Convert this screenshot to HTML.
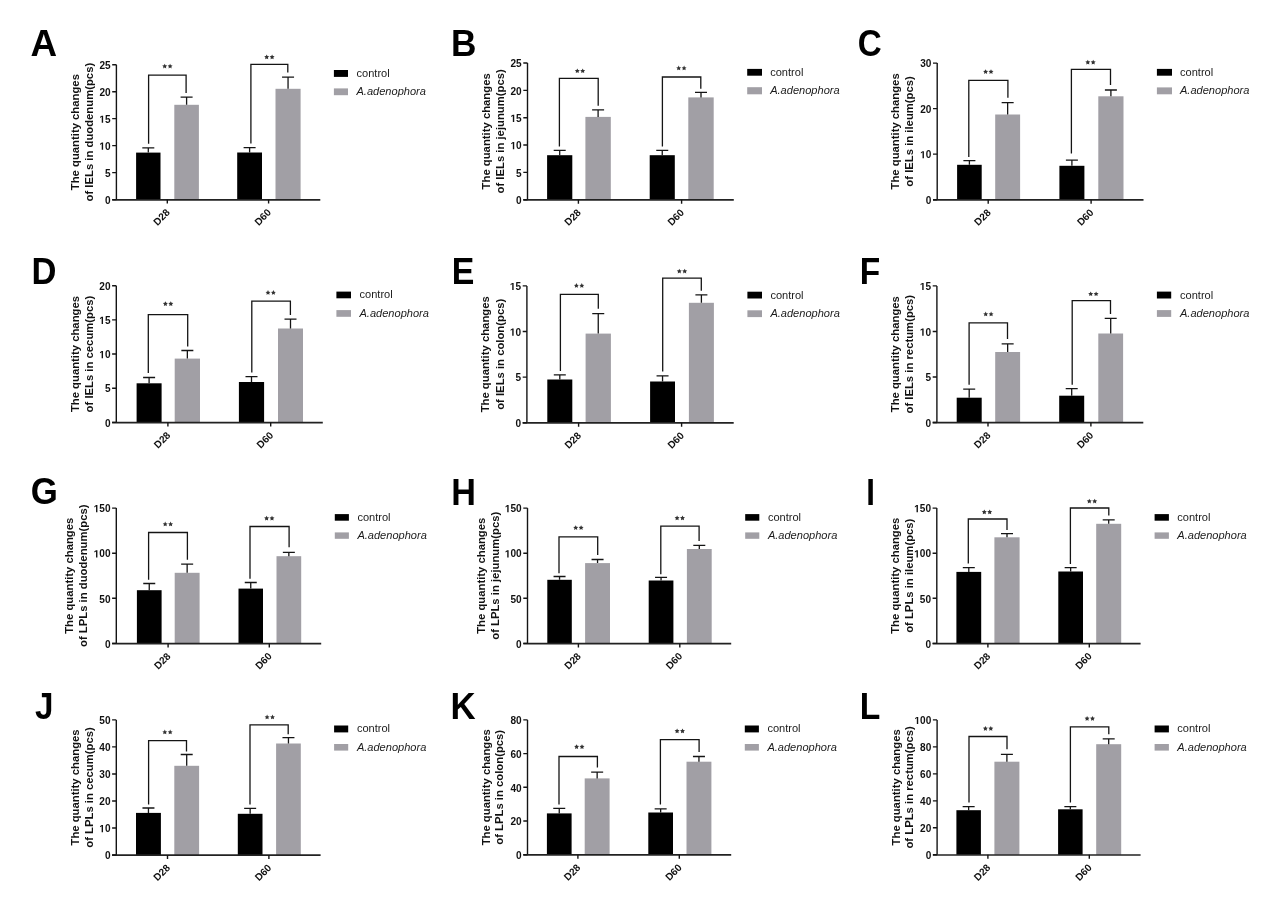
<!DOCTYPE html>
<html><head><meta charset="utf-8"><title>IELs and LPLs quantity changes</title><style>
html,body{margin:0;padding:0;background:#fff;}
svg{display:block;filter:blur(0.4px);}
text{font-family:"Liberation Sans",sans-serif;fill:#111;}
.let{font-weight:bold;fill:#000;}
.tk{font-weight:bold;font-size:10.5px;text-anchor:end;}
.tt{font-weight:bold;font-size:11.3px;text-anchor:middle;}
.lg{font-size:11.05px;fill:#1a1a1a;}
.it{font-style:italic;}
.xl{font-weight:bold;font-size:10.1px;text-anchor:end;}
.star{font-size:11px;text-anchor:middle;fill:#222;}
</style></head>
<body><svg width="1277" height="907" viewBox="0 0 1277 907">
<rect width="1277" height="907" fill="#fff"/>
<g><text class="let" style="font-size:36.34px" transform="translate(30.58 55.7) scale(1.013 1)">A</text><rect x="136.1" y="152.6" width="24.4" height="47" fill="#000"/><rect x="174.3" y="104.8" width="24.6" height="94.8" fill="#a19fa5"/><rect x="237.2" y="152.5" width="24.8" height="47.1" fill="#000"/><rect x="275.5" y="88.8" width="25.1" height="110.8" fill="#a19fa5"/><path d="M148.3 152.6V147.8M142.3 147.8H154.3" stroke="#141414" stroke-width="1.3" fill="none"/><path d="M186.6 104.8V97.2M180.6 97.2H192.6" stroke="#141414" stroke-width="1.3" fill="none"/><path d="M249.6 152.5V147.6M243.6 147.6H255.6" stroke="#141414" stroke-width="1.3" fill="none"/><path d="M288.05 88.8V77.1M282.05 77.1H294.05" stroke="#141414" stroke-width="1.3" fill="none"/><path d="M148.6 143.8V75.1H186.1V93" stroke="#141414" stroke-width="1.3" fill="none"/><path d="M250.9 143.5V64.3H287.8V72.6" stroke="#141414" stroke-width="1.3" fill="none"/><polygon points="164.70,63.70 165.46,65.25 167.17,65.50 165.94,66.70 166.23,68.40 164.70,67.60 163.17,68.40 163.46,66.70 162.23,65.50 163.94,65.25" fill="#333"/><polygon points="170.10,63.70 170.86,65.25 172.57,65.50 171.34,66.70 171.63,68.40 170.10,67.60 168.57,68.40 168.86,66.70 167.63,65.50 169.34,65.25" fill="#333"/><polygon points="266.70,54.50 267.46,56.05 269.17,56.30 267.94,57.50 268.23,59.20 266.70,58.40 265.17,59.20 265.46,57.50 264.23,56.30 265.94,56.05" fill="#333"/><polygon points="272.10,54.50 272.86,56.05 274.57,56.30 273.34,57.50 273.63,59.20 272.10,58.40 270.57,59.20 270.86,57.50 269.63,56.30 271.34,56.05" fill="#333"/><path d="M116.4 64.7V199.6" stroke="#141414" stroke-width="1.4" fill="none"/><path d="M112.2 199.8H320.3" stroke="#222" stroke-width="1.7" fill="none"/><path d="M112.2 199.6H116.4M112.2 172.62H116.4M112.2 145.64H116.4M112.2 118.66H116.4M112.2 91.68H116.4M112.2 64.7H116.4M167.3 199.6V203.6M268.6 199.6V203.6" stroke="#141414" stroke-width="1.4" fill="none"/><text class="tk" transform="translate(110.6 203.8) scale(0.96 1)">0</text><text class="tk" transform="translate(110.6 176.82) scale(0.96 1)">5</text><text class="tk" transform="translate(110.6 149.84) scale(0.96 1)"> 0</text><path transform="translate(110.6 149.84) scale(0.96 1) translate(-11.68 0) scale(0.005127 -0.005127)" d="M478 0V1170L140 959V1180L493 1409H759V0Z" fill="#111"/><text class="tk" transform="translate(110.6 122.86) scale(0.96 1)"> 5</text><path transform="translate(110.6 122.86) scale(0.96 1) translate(-11.68 0) scale(0.005127 -0.005127)" d="M478 0V1170L140 959V1180L493 1409H759V0Z" fill="#111"/><text class="tk" transform="translate(110.6 95.88) scale(0.96 1)">20</text><text class="tk" transform="translate(110.6 68.9) scale(0.96 1)">25</text><text x="170.5" y="213.1" class="xl" transform="rotate(-45 170.5 213.1)">D28</text><text x="271.8" y="213.1" class="xl" transform="rotate(-45 271.8 213.1)">D60</text><text class="tt" transform="translate(79.4 132.15) rotate(-90)">The quantity changes</text><text class="tt" transform="translate(93.1 132.15) rotate(-90)">of IELs in duodenum(pcs)</text><rect x="333.9" y="70" width="14.1" height="6.9" fill="#000"/><rect x="333.9" y="88.4" width="14.1" height="6.8" fill="#a19fa5"/><text x="356.5" y="76.9" class="lg">control</text><text x="356.5" y="95.2" class="lg it">A.adenophora</text></g>
<g><text class="let" style="font-size:36.48px" transform="translate(450.94 55.9) scale(0.966 1)">B</text><rect x="547.1" y="155.2" width="25.2" height="44.5" fill="#000"/><rect x="585.4" y="116.9" width="25.4" height="82.8" fill="#a19fa5"/><rect x="649.7" y="155.2" width="25.1" height="44.5" fill="#000"/><rect x="688.3" y="97.4" width="25.4" height="102.3" fill="#a19fa5"/><path d="M559.7 155.2V150.4M553.7 150.4H565.7" stroke="#141414" stroke-width="1.3" fill="none"/><path d="M598.1 116.9V109.8M592.1 109.8H604.1" stroke="#141414" stroke-width="1.3" fill="none"/><path d="M662.25 155.2V150.4M656.25 150.4H668.25" stroke="#141414" stroke-width="1.3" fill="none"/><path d="M701 97.4V92.4M695 92.4H707" stroke="#141414" stroke-width="1.3" fill="none"/><path d="M559.4 146.5V78.3H598.2V105.7" stroke="#141414" stroke-width="1.3" fill="none"/><path d="M662.4 146.5V77H700.8V88.8" stroke="#141414" stroke-width="1.3" fill="none"/><polygon points="577.30,68.40 578.06,69.95 579.77,70.20 578.54,71.40 578.83,73.10 577.30,72.30 575.77,73.10 576.06,71.40 574.83,70.20 576.54,69.95" fill="#333"/><polygon points="582.70,68.40 583.46,69.95 585.17,70.20 583.94,71.40 584.23,73.10 582.70,72.30 581.17,73.10 581.46,71.40 580.23,70.20 581.94,69.95" fill="#333"/><polygon points="678.70,65.60 679.46,67.15 681.17,67.40 679.94,68.60 680.23,70.30 678.70,69.50 677.17,70.30 677.46,68.60 676.23,67.40 677.94,67.15" fill="#333"/><polygon points="684.10,65.60 684.86,67.15 686.57,67.40 685.34,68.60 685.63,70.30 684.10,69.50 682.57,70.30 682.86,68.60 681.63,67.40 683.34,67.15" fill="#333"/><path d="M527.5 63V199.7" stroke="#141414" stroke-width="1.4" fill="none"/><path d="M523.3 199.9H733.8" stroke="#222" stroke-width="1.7" fill="none"/><path d="M523.3 199.7H527.5M523.3 172.36H527.5M523.3 145.02H527.5M523.3 117.68H527.5M523.3 90.34H527.5M523.3 63H527.5M578.4 199.7V203.7M681.6 199.7V203.7" stroke="#141414" stroke-width="1.4" fill="none"/><text class="tk" transform="translate(521.7 203.9) scale(0.96 1)">0</text><text class="tk" transform="translate(521.7 176.56) scale(0.96 1)">5</text><text class="tk" transform="translate(521.7 149.22) scale(0.96 1)"> 0</text><path transform="translate(521.7 149.22) scale(0.96 1) translate(-11.68 0) scale(0.005127 -0.005127)" d="M478 0V1170L140 959V1180L493 1409H759V0Z" fill="#111"/><text class="tk" transform="translate(521.7 121.88) scale(0.96 1)"> 5</text><path transform="translate(521.7 121.88) scale(0.96 1) translate(-11.68 0) scale(0.005127 -0.005127)" d="M478 0V1170L140 959V1180L493 1409H759V0Z" fill="#111"/><text class="tk" transform="translate(521.7 94.54) scale(0.96 1)">20</text><text class="tk" transform="translate(521.7 67.2) scale(0.96 1)">25</text><text x="581.6" y="213.2" class="xl" transform="rotate(-45 581.6 213.2)">D28</text><text x="684.8" y="213.2" class="xl" transform="rotate(-45 684.8 213.2)">D60</text><text class="tt" transform="translate(490.2 131.35) rotate(-90)">The quantity changes</text><text class="tt" transform="translate(503.7 131.35) rotate(-90)">of IELs in jejunum(pcs)</text><rect x="747.2" y="68.9" width="14.8" height="6.8" fill="#000"/><rect x="747.2" y="87.2" width="14.8" height="7.1" fill="#a19fa5"/><text x="770.2" y="75.7" class="lg">control</text><text x="770.2" y="94.3" class="lg it">A.adenophora</text></g>
<g><text class="let" style="font-size:37.01px" transform="translate(857.74 56.04) scale(0.897 1)">C</text><rect x="957.1" y="164.8" width="24.6" height="34.9" fill="#000"/><rect x="995.2" y="114.5" width="24.9" height="85.2" fill="#a19fa5"/><rect x="1059.4" y="165.8" width="25" height="33.9" fill="#000"/><rect x="1098.3" y="96.3" width="25.2" height="103.4" fill="#a19fa5"/><path d="M969.4 164.8V160.6M963.4 160.6H975.4" stroke="#141414" stroke-width="1.3" fill="none"/><path d="M1007.65 114.5V102.6M1001.65 102.6H1013.65" stroke="#141414" stroke-width="1.3" fill="none"/><path d="M1071.9 165.8V160.1M1065.9 160.1H1077.9" stroke="#141414" stroke-width="1.3" fill="none"/><path d="M1110.9 96.3V90M1104.9 90H1116.9" stroke="#141414" stroke-width="1.3" fill="none"/><path d="M968.8 157V80.3H1007.9V97.7" stroke="#141414" stroke-width="1.3" fill="none"/><path d="M1071.4 153.4V69.3H1110.5V85.1" stroke="#141414" stroke-width="1.3" fill="none"/><polygon points="985.60,69.20 986.36,70.75 988.07,71.00 986.84,72.20 987.13,73.90 985.60,73.10 984.07,73.90 984.36,72.20 983.13,71.00 984.84,70.75" fill="#333"/><polygon points="991.00,69.20 991.76,70.75 993.47,71.00 992.24,72.20 992.53,73.90 991.00,73.10 989.47,73.90 989.76,72.20 988.53,71.00 990.24,70.75" fill="#333"/><polygon points="1087.80,59.80 1088.56,61.35 1090.27,61.60 1089.04,62.80 1089.33,64.50 1087.80,63.70 1086.27,64.50 1086.56,62.80 1085.33,61.60 1087.04,61.35" fill="#333"/><polygon points="1093.20,59.80 1093.96,61.35 1095.67,61.60 1094.44,62.80 1094.73,64.50 1093.20,63.70 1091.67,64.50 1091.96,62.80 1090.73,61.60 1092.44,61.35" fill="#333"/><path d="M937.2 63.1V199.7" stroke="#141414" stroke-width="1.4" fill="none"/><path d="M933 199.9H1143.5" stroke="#222" stroke-width="1.7" fill="none"/><path d="M933 199.7H937.2M933 154.17H937.2M933 108.63H937.2M933 63.1H937.2M988.2 199.7V203.7M1091.1 199.7V203.7" stroke="#141414" stroke-width="1.4" fill="none"/><text class="tk" transform="translate(931.4 203.9) scale(0.96 1)">0</text><text class="tk" transform="translate(931.4 158.37) scale(0.96 1)"> 0</text><path transform="translate(931.4 158.37) scale(0.96 1) translate(-11.68 0) scale(0.005127 -0.005127)" d="M478 0V1170L140 959V1180L493 1409H759V0Z" fill="#111"/><text class="tk" transform="translate(931.4 112.83) scale(0.96 1)">20</text><text class="tk" transform="translate(931.4 67.3) scale(0.96 1)">30</text><text x="991.4" y="213.2" class="xl" transform="rotate(-45 991.4 213.2)">D28</text><text x="1094.3" y="213.2" class="xl" transform="rotate(-45 1094.3 213.2)">D60</text><text class="tt" transform="translate(898.7 131.4) rotate(-90)">The quantity changes</text><text class="tt" transform="translate(913 131.4) rotate(-90)">of IELs in ileum(pcs)</text><rect x="1156.9" y="68.9" width="15.1" height="6.8" fill="#000"/><rect x="1156.9" y="87.4" width="15.1" height="6.9" fill="#a19fa5"/><text x="1180" y="75.7" class="lg">control</text><text x="1180" y="94.3" class="lg it">A.adenophora</text></g>
<g><text class="let" style="font-size:36.34px" transform="translate(31.39 283.7) scale(0.951 1)">D</text><rect x="136.6" y="383.3" width="25" height="39.1" fill="#000"/><rect x="174.7" y="358.6" width="25.3" height="63.8" fill="#a19fa5"/><rect x="238.9" y="382" width="25.2" height="40.4" fill="#000"/><rect x="278" y="328.5" width="25" height="93.9" fill="#a19fa5"/><path d="M149.1 383.3V377.5M143.1 377.5H155.1" stroke="#141414" stroke-width="1.3" fill="none"/><path d="M187.35 358.6V350.5M181.35 350.5H193.35" stroke="#141414" stroke-width="1.3" fill="none"/><path d="M251.5 382V376.6M245.5 376.6H257.5" stroke="#141414" stroke-width="1.3" fill="none"/><path d="M290.5 328.5V319.2M284.5 319.2H296.5" stroke="#141414" stroke-width="1.3" fill="none"/><path d="M148.3 373V314.7H187.7V346.5" stroke="#141414" stroke-width="1.3" fill="none"/><path d="M251.8 372.5V301.2H290.4V315" stroke="#141414" stroke-width="1.3" fill="none"/><polygon points="165.40,301.30 166.16,302.85 167.87,303.10 166.64,304.30 166.93,306.00 165.40,305.20 163.87,306.00 164.16,304.30 162.93,303.10 164.64,302.85" fill="#333"/><polygon points="170.80,301.30 171.56,302.85 173.27,303.10 172.04,304.30 172.33,306.00 170.80,305.20 169.27,306.00 169.56,304.30 168.33,303.10 170.04,302.85" fill="#333"/><polygon points="268.00,290.10 268.76,291.65 270.47,291.90 269.24,293.10 269.53,294.80 268.00,294.00 266.47,294.80 266.76,293.10 265.53,291.90 267.24,291.65" fill="#333"/><polygon points="273.40,290.10 274.16,291.65 275.87,291.90 274.64,293.10 274.93,294.80 273.40,294.00 271.87,294.80 272.16,293.10 270.93,291.90 272.64,291.65" fill="#333"/><path d="M116.3 285.7V422.4" stroke="#141414" stroke-width="1.4" fill="none"/><path d="M112.1 422.6H322.8" stroke="#222" stroke-width="1.7" fill="none"/><path d="M112.1 422.4H116.3M112.1 388.22H116.3M112.1 354.05H116.3M112.1 319.88H116.3M112.1 285.7H116.3M167.9 422.4V426.4M270.7 422.4V426.4" stroke="#141414" stroke-width="1.4" fill="none"/><text class="tk" transform="translate(110.5 426.6) scale(0.96 1)">0</text><text class="tk" transform="translate(110.5 392.42) scale(0.96 1)">5</text><text class="tk" transform="translate(110.5 358.25) scale(0.96 1)"> 0</text><path transform="translate(110.5 358.25) scale(0.96 1) translate(-11.68 0) scale(0.005127 -0.005127)" d="M478 0V1170L140 959V1180L493 1409H759V0Z" fill="#111"/><text class="tk" transform="translate(110.5 324.07) scale(0.96 1)"> 5</text><path transform="translate(110.5 324.07) scale(0.96 1) translate(-11.68 0) scale(0.005127 -0.005127)" d="M478 0V1170L140 959V1180L493 1409H759V0Z" fill="#111"/><text class="tk" transform="translate(110.5 289.9) scale(0.96 1)">20</text><text x="171.1" y="435.9" class="xl" transform="rotate(-45 171.1 435.9)">D28</text><text x="273.9" y="435.9" class="xl" transform="rotate(-45 273.9 435.9)">D60</text><text class="tt" transform="translate(78.7 354.05) rotate(-90)">The quantity changes</text><text class="tt" transform="translate(93 354.05) rotate(-90)">of IELs in cecum(pcs)</text><rect x="336.4" y="291.6" width="14.6" height="6.7" fill="#000"/><rect x="336.4" y="310.1" width="14.6" height="6.7" fill="#a19fa5"/><text x="359.5" y="298.3" class="lg">control</text><text x="359.5" y="316.8" class="lg it">A.adenophora</text></g>
<g><text class="let" style="font-size:36.19px" transform="translate(451.63 283.7) scale(0.936 1)">E</text><rect x="547.3" y="379.5" width="25" height="43.2" fill="#000"/><rect x="585.6" y="333.6" width="25.3" height="89.1" fill="#a19fa5"/><rect x="650.1" y="381.5" width="24.9" height="41.2" fill="#000"/><rect x="688.9" y="302.8" width="25" height="119.9" fill="#a19fa5"/><path d="M559.8 379.5V374.8M553.8 374.8H565.8" stroke="#141414" stroke-width="1.3" fill="none"/><path d="M598.25 333.6V313.6M592.25 313.6H604.25" stroke="#141414" stroke-width="1.3" fill="none"/><path d="M662.55 381.5V375.9M656.55 375.9H668.55" stroke="#141414" stroke-width="1.3" fill="none"/><path d="M701.4 302.8V294.9M695.4 294.9H707.4" stroke="#141414" stroke-width="1.3" fill="none"/><path d="M560.4 370.9V294.3H598.3V308.7" stroke="#141414" stroke-width="1.3" fill="none"/><path d="M662.7 371.6V278.1H701.3V290.7" stroke="#141414" stroke-width="1.3" fill="none"/><polygon points="576.40,283.10 577.16,284.65 578.87,284.90 577.64,286.10 577.93,287.80 576.40,287.00 574.87,287.80 575.16,286.10 573.93,284.90 575.64,284.65" fill="#333"/><polygon points="581.80,283.10 582.56,284.65 584.27,284.90 583.04,286.10 583.33,287.80 581.80,287.00 580.27,287.80 580.56,286.10 579.33,284.90 581.04,284.65" fill="#333"/><polygon points="679.30,268.70 680.06,270.25 681.77,270.50 680.54,271.70 680.83,273.40 679.30,272.60 677.77,273.40 678.06,271.70 676.83,270.50 678.54,270.25" fill="#333"/><polygon points="684.70,268.70 685.46,270.25 687.17,270.50 685.94,271.70 686.23,273.40 684.70,272.60 683.17,273.40 683.46,271.70 682.23,270.50 683.94,270.25" fill="#333"/><path d="M526.9 285.9V422.7" stroke="#141414" stroke-width="1.4" fill="none"/><path d="M522.7 422.9H733.7" stroke="#222" stroke-width="1.7" fill="none"/><path d="M522.7 422.7H526.9M522.7 377.1H526.9M522.7 331.5H526.9M522.7 285.9H526.9M578.6 422.7V426.7M681.6 422.7V426.7" stroke="#141414" stroke-width="1.4" fill="none"/><text class="tk" transform="translate(521.1 426.9) scale(0.96 1)">0</text><text class="tk" transform="translate(521.1 381.3) scale(0.96 1)">5</text><text class="tk" transform="translate(521.1 335.7) scale(0.96 1)"> 0</text><path transform="translate(521.1 335.7) scale(0.96 1) translate(-11.68 0) scale(0.005127 -0.005127)" d="M478 0V1170L140 959V1180L493 1409H759V0Z" fill="#111"/><text class="tk" transform="translate(521.1 290.1) scale(0.96 1)"> 5</text><path transform="translate(521.1 290.1) scale(0.96 1) translate(-11.68 0) scale(0.005127 -0.005127)" d="M478 0V1170L140 959V1180L493 1409H759V0Z" fill="#111"/><text x="581.8" y="436.2" class="xl" transform="rotate(-45 581.8 436.2)">D28</text><text x="684.8" y="436.2" class="xl" transform="rotate(-45 684.8 436.2)">D60</text><text class="tt" transform="translate(489.4 354.3) rotate(-90)">The quantity changes</text><text class="tt" transform="translate(503.9 354.3) rotate(-90)">of IELs in colon(pcs)</text><rect x="747.4" y="291.7" width="14.6" height="6.8" fill="#000"/><rect x="747.4" y="310.3" width="14.6" height="6.8" fill="#a19fa5"/><text x="770.4" y="298.5" class="lg">control</text><text x="770.4" y="317.1" class="lg it">A.adenophora</text></g>
<g><text class="let" style="font-size:36.19px" transform="translate(859.66 283.7) scale(0.926 1)">F</text><rect x="956.7" y="397.7" width="25" height="24.8" fill="#000"/><rect x="995.2" y="352" width="24.9" height="70.5" fill="#a19fa5"/><rect x="1059.2" y="395.7" width="25" height="26.8" fill="#000"/><rect x="1098.3" y="333.5" width="24.8" height="89" fill="#a19fa5"/><path d="M969.2 397.7V389.2M963.2 389.2H975.2" stroke="#141414" stroke-width="1.3" fill="none"/><path d="M1007.65 352V343.9M1001.65 343.9H1013.65" stroke="#141414" stroke-width="1.3" fill="none"/><path d="M1071.7 395.7V388.7M1065.7 388.7H1077.7" stroke="#141414" stroke-width="1.3" fill="none"/><path d="M1110.7 333.5V318.4M1104.7 318.4H1116.7" stroke="#141414" stroke-width="1.3" fill="none"/><path d="M969.1 384.7V322.9H1007.5V339.1" stroke="#141414" stroke-width="1.3" fill="none"/><path d="M1072.2 384.7V300.7H1110.5V313.9" stroke="#141414" stroke-width="1.3" fill="none"/><polygon points="985.70,311.60 986.46,313.15 988.17,313.40 986.94,314.60 987.23,316.30 985.70,315.50 984.17,316.30 984.46,314.60 983.23,313.40 984.94,313.15" fill="#333"/><polygon points="991.10,311.60 991.86,313.15 993.57,313.40 992.34,314.60 992.63,316.30 991.10,315.50 989.57,316.30 989.86,314.60 988.63,313.40 990.34,313.15" fill="#333"/><polygon points="1090.70,291.40 1091.46,292.95 1093.17,293.20 1091.94,294.40 1092.23,296.10 1090.70,295.30 1089.17,296.10 1089.46,294.40 1088.23,293.20 1089.94,292.95" fill="#333"/><polygon points="1096.10,291.40 1096.86,292.95 1098.57,293.20 1097.34,294.40 1097.63,296.10 1096.10,295.30 1094.57,296.10 1094.86,294.40 1093.63,293.20 1095.34,292.95" fill="#333"/><path d="M936.9 285.9V422.5" stroke="#141414" stroke-width="1.4" fill="none"/><path d="M932.7 422.7H1143.3" stroke="#222" stroke-width="1.7" fill="none"/><path d="M932.7 422.5H936.9M932.7 376.97H936.9M932.7 331.43H936.9M932.7 285.9H936.9M988 422.5V426.5M1090.9 422.5V426.5" stroke="#141414" stroke-width="1.4" fill="none"/><text class="tk" transform="translate(931.1 426.7) scale(0.96 1)">0</text><text class="tk" transform="translate(931.1 381.17) scale(0.96 1)">5</text><text class="tk" transform="translate(931.1 335.63) scale(0.96 1)"> 0</text><path transform="translate(931.1 335.63) scale(0.96 1) translate(-11.68 0) scale(0.005127 -0.005127)" d="M478 0V1170L140 959V1180L493 1409H759V0Z" fill="#111"/><text class="tk" transform="translate(931.1 290.1) scale(0.96 1)"> 5</text><path transform="translate(931.1 290.1) scale(0.96 1) translate(-11.68 0) scale(0.005127 -0.005127)" d="M478 0V1170L140 959V1180L493 1409H759V0Z" fill="#111"/><text x="991.2" y="436" class="xl" transform="rotate(-45 991.2 436)">D28</text><text x="1094.1" y="436" class="xl" transform="rotate(-45 1094.1 436)">D60</text><text class="tt" transform="translate(898.8 354.2) rotate(-90)">The quantity changes</text><text class="tt" transform="translate(913.1 354.2) rotate(-90)">of IELs in rectum(pcs)</text><rect x="1156.9" y="291.6" width="14.3" height="6.9" fill="#000"/><rect x="1156.9" y="310.1" width="14.3" height="6.8" fill="#a19fa5"/><text x="1180" y="298.5" class="lg">control</text><text x="1180" y="316.9" class="lg it">A.adenophora</text></g>
<g><text class="let" style="font-size:36.86px" transform="translate(30.67 504.44) scale(0.945 1)">G</text><rect x="136.9" y="590.2" width="24.7" height="53.2" fill="#000"/><rect x="174.7" y="572.8" width="24.9" height="70.6" fill="#a19fa5"/><rect x="238.5" y="588.6" width="24.5" height="54.8" fill="#000"/><rect x="276.5" y="556.2" width="24.7" height="87.2" fill="#a19fa5"/><path d="M149.25 590.2V583.5M143.25 583.5H155.25" stroke="#141414" stroke-width="1.3" fill="none"/><path d="M187.15 572.8V564.2M181.15 564.2H193.15" stroke="#141414" stroke-width="1.3" fill="none"/><path d="M250.75 588.6V582.5M244.75 582.5H256.75" stroke="#141414" stroke-width="1.3" fill="none"/><path d="M288.85 556.2V552.3M282.85 552.3H294.85" stroke="#141414" stroke-width="1.3" fill="none"/><path d="M148.6 579.7V532.5H187.4V559.8" stroke="#141414" stroke-width="1.3" fill="none"/><path d="M250 578.8V526.5H289.1V547.2" stroke="#141414" stroke-width="1.3" fill="none"/><polygon points="165.20,521.60 165.96,523.15 167.67,523.40 166.44,524.60 166.73,526.30 165.20,525.50 163.67,526.30 163.96,524.60 162.73,523.40 164.44,523.15" fill="#333"/><polygon points="170.60,521.60 171.36,523.15 173.07,523.40 171.84,524.60 172.13,526.30 170.60,525.50 169.07,526.30 169.36,524.60 168.13,523.40 169.84,523.15" fill="#333"/><polygon points="266.60,515.80 267.36,517.35 269.07,517.60 267.84,518.80 268.13,520.50 266.60,519.70 265.07,520.50 265.36,518.80 264.13,517.60 265.84,517.35" fill="#333"/><polygon points="272.00,515.80 272.76,517.35 274.47,517.60 273.24,518.80 273.53,520.50 272.00,519.70 270.47,520.50 270.76,518.80 269.53,517.60 271.24,517.35" fill="#333"/><path d="M116.3 508.1V643.4" stroke="#141414" stroke-width="1.4" fill="none"/><path d="M112.1 643.6H321.2" stroke="#222" stroke-width="1.7" fill="none"/><path d="M112.1 643.4H116.3M112.1 598.3H116.3M112.1 553.2H116.3M112.1 508.1H116.3M168.1 643.4V647.4M269.3 643.4V647.4" stroke="#141414" stroke-width="1.4" fill="none"/><text class="tk" transform="translate(110.5 647.6) scale(0.96 1)">0</text><text class="tk" transform="translate(110.5 602.5) scale(0.96 1)">50</text><text class="tk" transform="translate(110.5 557.4) scale(0.96 1)"> 00</text><path transform="translate(110.5 557.4) scale(0.96 1) translate(-17.52 0) scale(0.005127 -0.005127)" d="M478 0V1170L140 959V1180L493 1409H759V0Z" fill="#111"/><text class="tk" transform="translate(110.5 512.3) scale(0.96 1)"> 50</text><path transform="translate(110.5 512.3) scale(0.96 1) translate(-17.52 0) scale(0.005127 -0.005127)" d="M478 0V1170L140 959V1180L493 1409H759V0Z" fill="#111"/><text x="171.3" y="656.9" class="xl" transform="rotate(-45 171.3 656.9)">D28</text><text x="272.5" y="656.9" class="xl" transform="rotate(-45 272.5 656.9)">D60</text><text class="tt" transform="translate(72.9 575.75) rotate(-90)">The quantity changes</text><text class="tt" transform="translate(86.6 575.75) rotate(-90)">of LPLs in duodenum(pcs)</text><rect x="334.8" y="514.1" width="14.1" height="6.6" fill="#000"/><rect x="334.8" y="532.4" width="14.1" height="6.4" fill="#a19fa5"/><text x="357.4" y="520.7" class="lg">control</text><text x="357.4" y="538.8" class="lg it">A.adenophora</text></g>
<g><text class="let" style="font-size:36.92px" transform="translate(451.21 504.5) scale(0.926 1)">H</text><rect x="547.3" y="579.8" width="24.5" height="63.6" fill="#000"/><rect x="585.1" y="563.1" width="24.9" height="80.3" fill="#a19fa5"/><rect x="648.7" y="580.5" width="24.7" height="62.9" fill="#000"/><rect x="686.9" y="549" width="24.8" height="94.4" fill="#a19fa5"/><path d="M559.55 579.8V576.5M553.55 576.5H565.55" stroke="#141414" stroke-width="1.3" fill="none"/><path d="M597.55 563.1V559.5M591.55 559.5H603.55" stroke="#141414" stroke-width="1.3" fill="none"/><path d="M661.05 580.5V577.4M655.05 577.4H667.05" stroke="#141414" stroke-width="1.3" fill="none"/><path d="M699.3 549V545.4M693.3 545.4H705.3" stroke="#141414" stroke-width="1.3" fill="none"/><path d="M559 573.3V536.8H597.7V555" stroke="#141414" stroke-width="1.3" fill="none"/><path d="M660.8 574.3V526.2H699.1V540.9" stroke="#141414" stroke-width="1.3" fill="none"/><polygon points="575.70,525.20 576.46,526.75 578.17,527.00 576.94,528.20 577.23,529.90 575.70,529.10 574.17,529.90 574.46,528.20 573.23,527.00 574.94,526.75" fill="#333"/><polygon points="581.10,525.20 581.86,526.75 583.57,527.00 582.34,528.20 582.63,529.90 581.10,529.10 579.57,529.90 579.86,528.20 578.63,527.00 580.34,526.75" fill="#333"/><polygon points="677.10,515.50 677.86,517.05 679.57,517.30 678.34,518.50 678.63,520.20 677.10,519.40 675.57,520.20 675.86,518.50 674.63,517.30 676.34,517.05" fill="#333"/><polygon points="682.50,515.50 683.26,517.05 684.97,517.30 683.74,518.50 684.03,520.20 682.50,519.40 680.97,520.20 681.26,518.50 680.03,517.30 681.74,517.05" fill="#333"/><path d="M527.5 508.1V643.4" stroke="#141414" stroke-width="1.4" fill="none"/><path d="M523.3 643.6H731.2" stroke="#222" stroke-width="1.7" fill="none"/><path d="M523.3 643.4H527.5M523.3 598.3H527.5M523.3 553.2H527.5M523.3 508.1H527.5M578.4 643.4V647.4M679.8 643.4V647.4" stroke="#141414" stroke-width="1.4" fill="none"/><text class="tk" transform="translate(521.7 647.6) scale(0.96 1)">0</text><text class="tk" transform="translate(521.7 602.5) scale(0.96 1)">50</text><text class="tk" transform="translate(521.7 557.4) scale(0.96 1)"> 00</text><path transform="translate(521.7 557.4) scale(0.96 1) translate(-17.52 0) scale(0.005127 -0.005127)" d="M478 0V1170L140 959V1180L493 1409H759V0Z" fill="#111"/><text class="tk" transform="translate(521.7 512.3) scale(0.96 1)"> 50</text><path transform="translate(521.7 512.3) scale(0.96 1) translate(-17.52 0) scale(0.005127 -0.005127)" d="M478 0V1170L140 959V1180L493 1409H759V0Z" fill="#111"/><text x="581.6" y="656.9" class="xl" transform="rotate(-45 581.6 656.9)">D28</text><text x="683" y="656.9" class="xl" transform="rotate(-45 683 656.9)">D60</text><text class="tt" transform="translate(485.4 575.75) rotate(-90)">The quantity changes</text><text class="tt" transform="translate(498.7 575.75) rotate(-90)">of LPLs in jejunum(pcs)</text><rect x="745.2" y="514.1" width="14.1" height="6.6" fill="#000"/><rect x="745.2" y="532.4" width="14.1" height="6.4" fill="#a19fa5"/><text x="767.9" y="520.7" class="lg">control</text><text x="767.9" y="538.8" class="lg it">A.adenophora</text></g>
<g><text class="let" style="font-size:36.92px" transform="translate(866.31 504.5) scale(0.846 1)">I</text><rect x="956.4" y="571.9" width="24.8" height="71.5" fill="#000"/><rect x="994.4" y="537.3" width="25.2" height="106.1" fill="#a19fa5"/><rect x="1058.3" y="571.5" width="24.7" height="71.9" fill="#000"/><rect x="1096.2" y="523.8" width="25" height="119.6" fill="#a19fa5"/><path d="M968.8 571.9V567.6M962.8 567.6H974.8" stroke="#141414" stroke-width="1.3" fill="none"/><path d="M1007 537.3V533.7M1001 533.7H1013" stroke="#141414" stroke-width="1.3" fill="none"/><path d="M1070.65 571.5V567.6M1064.65 567.6H1076.65" stroke="#141414" stroke-width="1.3" fill="none"/><path d="M1108.7 523.8V519.9M1102.7 519.9H1114.7" stroke="#141414" stroke-width="1.3" fill="none"/><path d="M968.3 563.4V519H1007V530.1" stroke="#141414" stroke-width="1.3" fill="none"/><path d="M1070.4 564V508H1108.8V515.4" stroke="#141414" stroke-width="1.3" fill="none"/><polygon points="984.30,509.50 985.06,511.05 986.77,511.30 985.54,512.50 985.83,514.20 984.30,513.40 982.77,514.20 983.06,512.50 981.83,511.30 983.54,511.05" fill="#333"/><polygon points="989.70,509.50 990.46,511.05 992.17,511.30 990.94,512.50 991.23,514.20 989.70,513.40 988.17,514.20 988.46,512.50 987.23,511.30 988.94,511.05" fill="#333"/><polygon points="1089.30,498.70 1090.06,500.25 1091.77,500.50 1090.54,501.70 1090.83,503.40 1089.30,502.60 1087.77,503.40 1088.06,501.70 1086.83,500.50 1088.54,500.25" fill="#333"/><polygon points="1094.70,498.70 1095.46,500.25 1097.17,500.50 1095.94,501.70 1096.23,503.40 1094.70,502.60 1093.17,503.40 1093.46,501.70 1092.23,500.50 1093.94,500.25" fill="#333"/><path d="M936.8 508.1V643.4" stroke="#141414" stroke-width="1.4" fill="none"/><path d="M932.6 643.6H1140.6" stroke="#222" stroke-width="1.7" fill="none"/><path d="M932.6 643.4H936.8M932.6 598.3H936.8M932.6 553.2H936.8M932.6 508.1H936.8M987.9 643.4V647.4M1089.3 643.4V647.4" stroke="#141414" stroke-width="1.4" fill="none"/><text class="tk" transform="translate(931 647.6) scale(0.96 1)">0</text><text class="tk" transform="translate(931 602.5) scale(0.96 1)">50</text><text class="tk" transform="translate(931 557.4) scale(0.96 1)"> 00</text><path transform="translate(931 557.4) scale(0.96 1) translate(-17.52 0) scale(0.005127 -0.005127)" d="M478 0V1170L140 959V1180L493 1409H759V0Z" fill="#111"/><text class="tk" transform="translate(931 512.3) scale(0.96 1)"> 50</text><path transform="translate(931 512.3) scale(0.96 1) translate(-17.52 0) scale(0.005127 -0.005127)" d="M478 0V1170L140 959V1180L493 1409H759V0Z" fill="#111"/><text x="991.1" y="656.9" class="xl" transform="rotate(-45 991.1 656.9)">D28</text><text x="1092.5" y="656.9" class="xl" transform="rotate(-45 1092.5 656.9)">D60</text><text class="tt" transform="translate(899.2 575.75) rotate(-90)">The quantity changes</text><text class="tt" transform="translate(912.7 575.75) rotate(-90)">of LPLs in ileum(pcs)</text><rect x="1154.6" y="514.1" width="14.3" height="6.6" fill="#000"/><rect x="1154.6" y="532.4" width="14.3" height="6.4" fill="#a19fa5"/><text x="1177.3" y="520.7" class="lg">control</text><text x="1177.3" y="538.8" class="lg it">A.adenophora</text></g>
<g><text class="let" style="font-size:36.4px" transform="translate(35 718.54) scale(0.912 1)">J</text><rect x="136" y="812.9" width="24.9" height="42.1" fill="#000"/><rect x="174.3" y="765.8" width="24.8" height="89.2" fill="#a19fa5"/><rect x="237.8" y="813.8" width="24.7" height="41.2" fill="#000"/><rect x="276.1" y="743.5" width="24.7" height="111.5" fill="#a19fa5"/><path d="M148.45 812.9V808M142.45 808H154.45" stroke="#141414" stroke-width="1.3" fill="none"/><path d="M186.7 765.8V754.5M180.7 754.5H192.7" stroke="#141414" stroke-width="1.3" fill="none"/><path d="M250.15 813.8V808.4M244.15 808.4H256.15" stroke="#141414" stroke-width="1.3" fill="none"/><path d="M288.45 743.5V737.6M282.45 737.6H294.45" stroke="#141414" stroke-width="1.3" fill="none"/><path d="M148.6 804.4V740.6H186.5V751.4" stroke="#141414" stroke-width="1.3" fill="none"/><path d="M250 804.4V724.8H288.2V734.3" stroke="#141414" stroke-width="1.3" fill="none"/><polygon points="164.80,729.60 165.56,731.15 167.27,731.40 166.04,732.60 166.33,734.30 164.80,733.50 163.27,734.30 163.56,732.60 162.33,731.40 164.04,731.15" fill="#333"/><polygon points="170.20,729.60 170.96,731.15 172.67,731.40 171.44,732.60 171.73,734.30 170.20,733.50 168.67,734.30 168.96,732.60 167.73,731.40 169.44,731.15" fill="#333"/><polygon points="267.10,714.60 267.86,716.15 269.57,716.40 268.34,717.60 268.63,719.30 267.10,718.50 265.57,719.30 265.86,717.60 264.63,716.40 266.34,716.15" fill="#333"/><polygon points="272.50,714.60 273.26,716.15 274.97,716.40 273.74,717.60 274.03,719.30 272.50,718.50 270.97,719.30 271.26,717.60 270.03,716.40 271.74,716.15" fill="#333"/><path d="M116.3 719.9V855" stroke="#141414" stroke-width="1.4" fill="none"/><path d="M112.1 855.2H320.6" stroke="#222" stroke-width="1.7" fill="none"/><path d="M112.1 855H116.3M112.1 827.98H116.3M112.1 800.96H116.3M112.1 773.94H116.3M112.1 746.92H116.3M112.1 719.9H116.3M167.5 855V859M268.9 855V859" stroke="#141414" stroke-width="1.4" fill="none"/><text class="tk" transform="translate(110.5 859.2) scale(0.96 1)">0</text><text class="tk" transform="translate(110.5 832.18) scale(0.96 1)"> 0</text><path transform="translate(110.5 832.18) scale(0.96 1) translate(-11.68 0) scale(0.005127 -0.005127)" d="M478 0V1170L140 959V1180L493 1409H759V0Z" fill="#111"/><text class="tk" transform="translate(110.5 805.16) scale(0.96 1)">20</text><text class="tk" transform="translate(110.5 778.14) scale(0.96 1)">30</text><text class="tk" transform="translate(110.5 751.12) scale(0.96 1)">40</text><text class="tk" transform="translate(110.5 724.1) scale(0.96 1)">50</text><text x="170.7" y="868.5" class="xl" transform="rotate(-45 170.7 868.5)">D28</text><text x="272.1" y="868.5" class="xl" transform="rotate(-45 272.1 868.5)">D60</text><text class="tt" transform="translate(79.2 787.45) rotate(-90)">The quantity changes</text><text class="tt" transform="translate(93 787.45) rotate(-90)">of LPLs in cecum(pcs)</text><rect x="334.1" y="725.5" width="14.1" height="6.9" fill="#000"/><rect x="334.1" y="744" width="14.1" height="6.6" fill="#a19fa5"/><text x="356.9" y="732.4" class="lg">control</text><text x="356.9" y="750.6" class="lg it">A.adenophora</text></g>
<g><text class="let" style="font-size:36.63px" transform="translate(450.57 718.7) scale(0.951 1)">K</text><rect x="546.9" y="813.4" width="24.7" height="41.3" fill="#000"/><rect x="584.7" y="778.4" width="24.9" height="76.3" fill="#a19fa5"/><rect x="648.3" y="812.5" width="24.7" height="42.2" fill="#000"/><rect x="686.5" y="761.7" width="24.9" height="93" fill="#a19fa5"/><path d="M559.25 813.4V808.4M553.25 808.4H565.25" stroke="#141414" stroke-width="1.3" fill="none"/><path d="M597.15 778.4V772.1M591.15 772.1H603.15" stroke="#141414" stroke-width="1.3" fill="none"/><path d="M660.65 812.5V808.9M654.65 808.9H666.65" stroke="#141414" stroke-width="1.3" fill="none"/><path d="M698.95 761.7V756.5M692.95 756.5H704.95" stroke="#141414" stroke-width="1.3" fill="none"/><path d="M559 804.4V756.5H597.4V767.6" stroke="#141414" stroke-width="1.3" fill="none"/><path d="M660.4 804.4V739.7H699.1V752" stroke="#141414" stroke-width="1.3" fill="none"/><polygon points="576.60,744.30 577.36,745.85 579.07,746.10 577.84,747.30 578.13,749.00 576.60,748.20 575.07,749.00 575.36,747.30 574.13,746.10 575.84,745.85" fill="#333"/><polygon points="582.00,744.30 582.76,745.85 584.47,746.10 583.24,747.30 583.53,749.00 582.00,748.20 580.47,749.00 580.76,747.30 579.53,746.10 581.24,745.85" fill="#333"/><polygon points="677.10,728.50 677.86,730.05 679.57,730.30 678.34,731.50 678.63,733.20 677.10,732.40 675.57,733.20 675.86,731.50 674.63,730.30 676.34,730.05" fill="#333"/><polygon points="682.50,728.50 683.26,730.05 684.97,730.30 683.74,731.50 684.03,733.20 682.50,732.40 680.97,733.20 681.26,731.50 680.03,730.30 681.74,730.05" fill="#333"/><path d="M527.5 719.9V854.7" stroke="#141414" stroke-width="1.4" fill="none"/><path d="M523.3 854.9H731.2" stroke="#222" stroke-width="1.7" fill="none"/><path d="M523.3 854.7H527.5M523.3 821H527.5M523.3 787.3H527.5M523.3 753.6H527.5M523.3 719.9H527.5M577.9 854.7V858.7M679.3 854.7V858.7" stroke="#141414" stroke-width="1.4" fill="none"/><text class="tk" transform="translate(521.7 858.9) scale(0.96 1)">0</text><text class="tk" transform="translate(521.7 825.2) scale(0.96 1)">20</text><text class="tk" transform="translate(521.7 791.5) scale(0.96 1)">40</text><text class="tk" transform="translate(521.7 757.8) scale(0.96 1)">60</text><text class="tk" transform="translate(521.7 724.1) scale(0.96 1)">80</text><text x="581.1" y="868.2" class="xl" transform="rotate(-45 581.1 868.2)">D28</text><text x="682.5" y="868.2" class="xl" transform="rotate(-45 682.5 868.2)">D60</text><text class="tt" transform="translate(489.9 787.3) rotate(-90)">The quantity changes</text><text class="tt" transform="translate(503.4 787.3) rotate(-90)">of LPLs in colon(pcs)</text><rect x="744.8" y="725.5" width="14.1" height="6.9" fill="#000"/><rect x="744.8" y="744" width="14.1" height="6.6" fill="#a19fa5"/><text x="767.4" y="732.4" class="lg">control</text><text x="767.4" y="750.6" class="lg it">A.adenophora</text></g>
<g><text class="let" style="font-size:36.34px" transform="translate(859.84 718.7) scale(0.928 1)">L</text><rect x="956.4" y="810.2" width="24.5" height="44.6" fill="#000"/><rect x="994.4" y="761.7" width="25" height="93.1" fill="#a19fa5"/><rect x="1058.1" y="809.3" width="24.5" height="45.5" fill="#000"/><rect x="1096.2" y="744.2" width="25" height="110.6" fill="#a19fa5"/><path d="M968.65 810.2V806.6M962.65 806.6H974.65" stroke="#141414" stroke-width="1.3" fill="none"/><path d="M1006.9 761.7V754.3M1000.9 754.3H1012.9" stroke="#141414" stroke-width="1.3" fill="none"/><path d="M1070.35 809.3V806.6M1064.35 806.6H1076.35" stroke="#141414" stroke-width="1.3" fill="none"/><path d="M1108.7 744.2V738.8M1102.7 738.8H1114.7" stroke="#141414" stroke-width="1.3" fill="none"/><path d="M969 802.6V736.5H1007V749.3" stroke="#141414" stroke-width="1.3" fill="none"/><path d="M1070.4 802.6V726.8H1108.8V734.3" stroke="#141414" stroke-width="1.3" fill="none"/><polygon points="985.40,726.00 986.16,727.55 987.87,727.80 986.64,729.00 986.93,730.70 985.40,729.90 983.87,730.70 984.16,729.00 982.93,727.80 984.64,727.55" fill="#333"/><polygon points="990.80,726.00 991.56,727.55 993.27,727.80 992.04,729.00 992.33,730.70 990.80,729.90 989.27,730.70 989.56,729.00 988.33,727.80 990.04,727.55" fill="#333"/><polygon points="1087.10,716.00 1087.86,717.55 1089.57,717.80 1088.34,719.00 1088.63,720.70 1087.10,719.90 1085.57,720.70 1085.86,719.00 1084.63,717.80 1086.34,717.55" fill="#333"/><polygon points="1092.50,716.00 1093.26,717.55 1094.97,717.80 1093.74,719.00 1094.03,720.70 1092.50,719.90 1090.97,720.70 1091.26,719.00 1090.03,717.80 1091.74,717.55" fill="#333"/><path d="M937.1 719.9V854.8" stroke="#141414" stroke-width="1.4" fill="none"/><path d="M932.9 855H1140.6" stroke="#222" stroke-width="1.7" fill="none"/><path d="M932.9 854.8H937.1M932.9 827.82H937.1M932.9 800.84H937.1M932.9 773.86H937.1M932.9 746.88H937.1M932.9 719.9H937.1M987.9 854.8V858.8M1089.3 854.8V858.8" stroke="#141414" stroke-width="1.4" fill="none"/><text class="tk" transform="translate(931.3 859) scale(0.96 1)">0</text><text class="tk" transform="translate(931.3 832.02) scale(0.96 1)">20</text><text class="tk" transform="translate(931.3 805.04) scale(0.96 1)">40</text><text class="tk" transform="translate(931.3 778.06) scale(0.96 1)">60</text><text class="tk" transform="translate(931.3 751.08) scale(0.96 1)">80</text><text class="tk" transform="translate(931.3 724.1) scale(0.96 1)"> 00</text><path transform="translate(931.3 724.1) scale(0.96 1) translate(-17.52 0) scale(0.005127 -0.005127)" d="M478 0V1170L140 959V1180L493 1409H759V0Z" fill="#111"/><text x="991.1" y="868.3" class="xl" transform="rotate(-45 991.1 868.3)">D28</text><text x="1092.5" y="868.3" class="xl" transform="rotate(-45 1092.5 868.3)">D60</text><text class="tt" transform="translate(899.5 787.35) rotate(-90)">The quantity changes</text><text class="tt" transform="translate(913.3 787.35) rotate(-90)">of LPLs in rectum(pcs)</text><rect x="1154.6" y="725.5" width="14.3" height="6.9" fill="#000"/><rect x="1154.6" y="744" width="14.3" height="6.6" fill="#a19fa5"/><text x="1177.3" y="732.4" class="lg">control</text><text x="1177.3" y="750.6" class="lg it">A.adenophora</text></g>
</svg></body></html>
